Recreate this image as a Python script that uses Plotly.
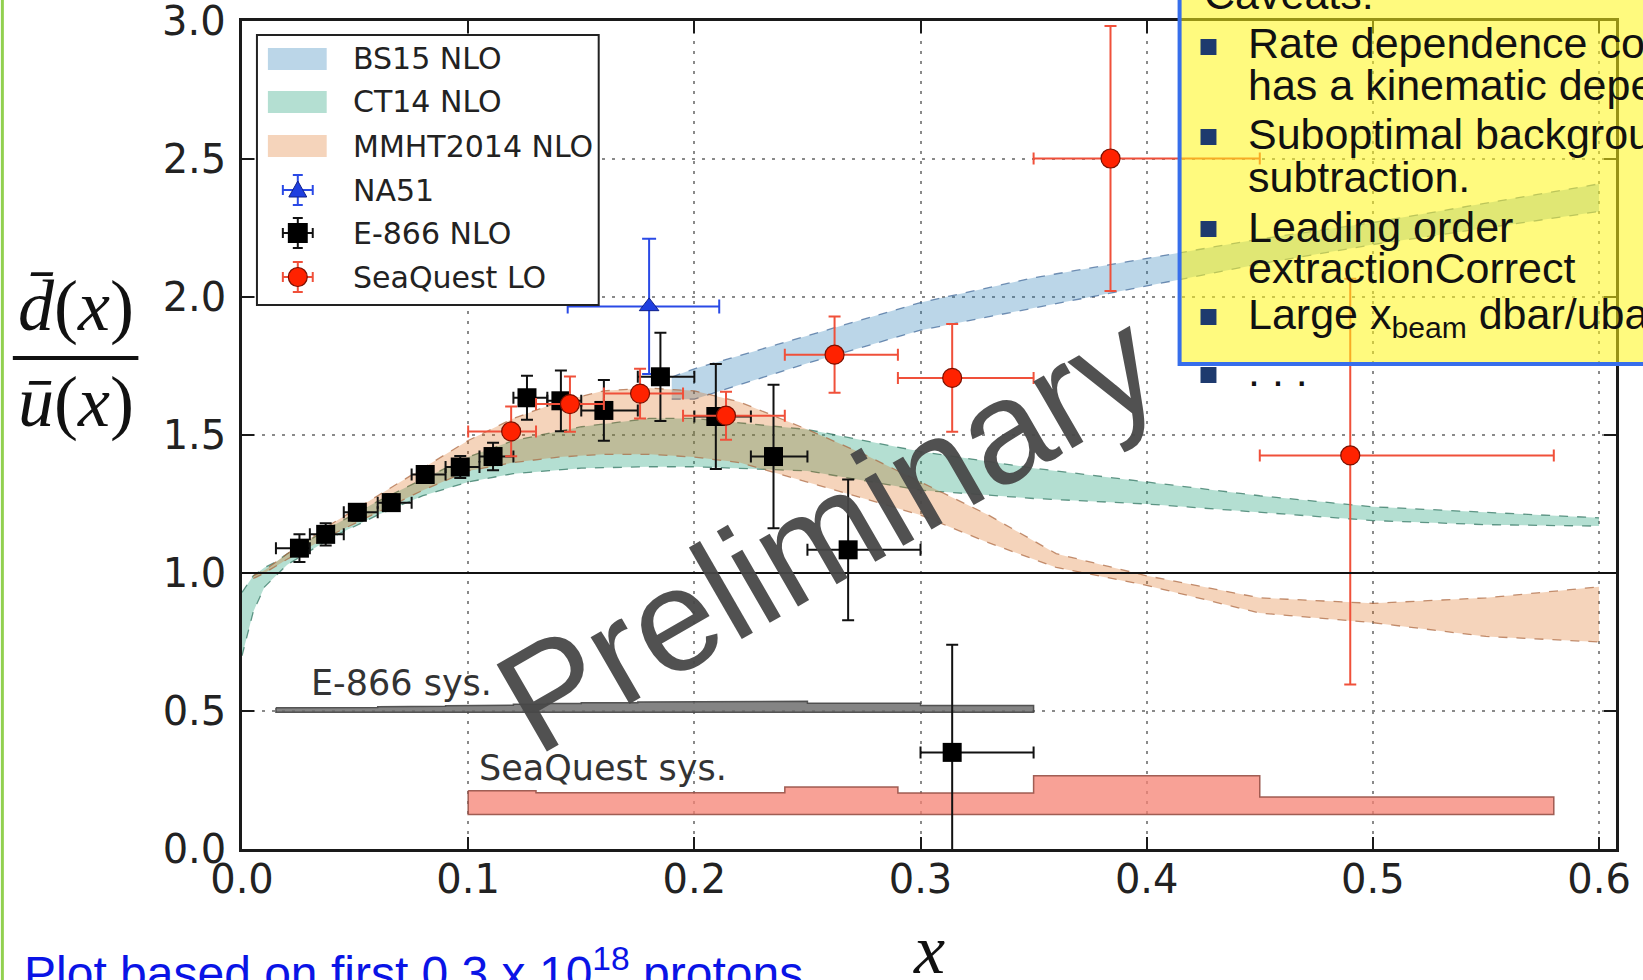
import plotly.graph_objects as go

# ---------------- data ----------------
bs15_x  = [0.19, 0.20, 0.25, 0.30, 0.35, 0.40, 0.45, 0.50, 0.55, 0.60]
bs15_hi = [1.71, 1.74, 1.86, 1.98, 2.07, 2.14, 2.21, 2.27, 2.34, 2.41]
bs15_lo = [1.63, 1.63, 1.76, 1.88, 1.96, 2.04, 2.12, 2.19, 2.25, 2.31]

ct14_x  = [0.0, 0.005, 0.01, 0.015, 0.02, 0.03, 0.04, 0.06, 0.08, 0.10, 0.12, 0.15,
           0.18, 0.20, 0.25, 0.30, 0.35, 0.40, 0.45, 0.50, 0.55, 0.60]
ct14_hi = [0.93, 0.99, 1.02, 1.04, 1.07, 1.12, 1.17, 1.26, 1.34, 1.42, 1.48, 1.53,
           1.56, 1.56, 1.52, 1.44, 1.38, 1.33, 1.28, 1.24, 1.22, 1.20]
ct14_lo = [0.70, 0.86, 0.95, 0.99, 1.03, 1.08, 1.13, 1.21, 1.28, 1.33, 1.36, 1.38,
           1.385, 1.385, 1.37, 1.30, 1.27, 1.25, 1.22, 1.19, 1.175, 1.17]

mmht_x  = [0.005, 0.01, 0.02, 0.04, 0.06, 0.08, 0.10, 0.12, 0.14, 0.16, 0.18, 0.20,
           0.22, 0.25, 0.275, 0.30, 0.33, 0.36, 0.40, 0.45, 0.50, 0.55, 0.60]
mmht_hi = [0.99, 1.01, 1.07, 1.18, 1.28, 1.38, 1.48, 1.56, 1.62, 1.66, 1.67, 1.66,
           1.62, 1.52, 1.43, 1.33, 1.21, 1.07, 0.99, 0.91, 0.89, 0.91, 0.95]
mmht_lo = [0.98, 1.00, 1.05, 1.14, 1.22, 1.30, 1.37, 1.40, 1.42, 1.43, 1.43, 1.42,
           1.40, 1.33, 1.27, 1.21, 1.11, 1.02, 0.955, 0.855, 0.82, 0.77, 0.75]

na51_x = [0.18]
na51_y = [1.966]
na51_xlo = [0.036]
na51_xhi = [0.031]
na51_err = [0.245]

e866_x = [0.0254, 0.037, 0.051, 0.066, 0.081, 0.0965, 0.111, 0.126, 0.141, 0.160,
          0.185, 0.2095, 0.235, 0.268, 0.314]
e866_y = [1.09, 1.14, 1.22, 1.255, 1.357, 1.384, 1.422, 1.635, 1.624, 1.589,
          1.711, 1.567, 1.422, 1.084, 0.35]
e866_err = [0.05, 0.04, 0.03, 0.03, 0.03, 0.04, 0.05, 0.08, 0.11, 0.11,
            0.16, 0.19, 0.26, 0.255, 0.39]
e866_edges = [0.015, 0.03, 0.045, 0.06, 0.075, 0.09, 0.105, 0.12, 0.135, 0.15,
              0.175, 0.2, 0.225, 0.25, 0.3, 0.35]

sq_x = [0.119, 0.145, 0.176, 0.214, 0.262, 0.314, 0.384, 0.490]
sq_y = [1.513, 1.612, 1.650, 1.570, 1.791, 1.707, 2.502, 1.426]
sq_err_up = [0.09, 0.10, 0.09, 0.087, 0.138, 0.195, 0.48, 0.64]
sq_err_dn = [0.09, 0.10, 0.09, 0.087, 0.138, 0.195, 0.48, 0.83]
sq_edges = [0.10, 0.13, 0.16, 0.195, 0.24, 0.29, 0.35, 0.45, 0.58]

e866_sys_top = [0.512, 0.512, 0.513, 0.515, 0.517, 0.519, 0.521, 0.524, 0.527,
                0.530, 0.533, 0.535, 0.535, 0.528, 0.520]
e866_sys_base = 0.495
sq_sys_top = [0.211, 0.204, 0.204, 0.204, 0.225, 0.203, 0.265, 0.188]
sq_sys_base = 0.125

x_ticks = [0.0, 0.1, 0.2, 0.3, 0.4, 0.5, 0.6]
y_ticks = [0.0, 0.5, 1.0, 1.5, 2.0, 2.5, 3.0]

legend_names = ["BS15 NLO", "CT14 NLO", "MMHT2014 NLO", "NA51", "E-866 NLO", "SeaQuest LO"]

caveat_lines = ["Rate dependence correction", "has a kinematic dependence",
                "Suboptimal background", "subtraction.", "Leading order",
                "extractionCorrect", "Large x<sub>beam</sub> dbar/ubar", ". . ."]

# ---------------- styles ----------------
BS_FILL, BS_LINE = "rgba(31,119,180,0.30)", "rgba(60,100,150,0.7)"
CT_FILL, CT_LINE = "rgba(27,158,119,0.33)", "rgba(40,110,90,0.7)"
MM_FILL, MM_LINE = "rgba(217,95,2,0.27)", "rgba(170,100,60,0.7)"
NA_COL, NA_EDGE = "#1f3fe0", "#10208a"
E_COL = "black"
SQ_COL, SQ_EDGE, SQ_BAR = "#ff2200", "#7a1000", "#f0503a"
TICK_FONT = dict(family="DejaVu Sans", size=40, color="#222")

W, H = 1643, 980
L, R, T, B = 242, 22, 21, 131
PW, PH = W - L - R, H - T - B


def px(X):
    return (X - L) / PW


def py(Y):
    return (H - B - Y) / PH


def step_poly(edges, tops, base):
    xs, ys = [], []
    for i, t in enumerate(tops):
        xs += [edges[i], edges[i + 1]]
        ys += [t, t]
    xs += [edges[-1], edges[0], edges[0]]
    ys += [base, base, tops[0]]
    return xs, ys


fig = go.Figure()


def band(x, lo, hi, fillc, linec):
    fig.add_trace(go.Scatter(x=x, y=lo, mode="lines", hoverinfo="skip",
                             line=dict(color=linec, width=1.3, dash="dash")))
    fig.add_trace(go.Scatter(x=x, y=hi, mode="lines", fill="tonexty",
                             fillcolor=fillc, line=dict(color=linec, width=1.3, dash="dash")))


band(bs15_x, bs15_lo, bs15_hi, BS_FILL, BS_LINE)
band(ct14_x, ct14_lo, ct14_hi, CT_FILL, CT_LINE)
band(mmht_x, mmht_lo, mmht_hi, MM_FILL, MM_LINE)

# systematic bands
ex, ey = step_poly(e866_edges, e866_sys_top, e866_sys_base)
fig.add_trace(go.Scatter(x=ex, y=ey, mode="lines", fill="toself",
                         fillcolor="rgba(110,110,110,0.85)",
                         line=dict(color="rgba(70,70,70,0.9)", width=1.5)))
sx, sy = step_poly(sq_edges, sq_sys_top, sq_sys_base)
fig.add_trace(go.Scatter(x=sx, y=sy, mode="lines", fill="toself",
                         fillcolor="rgba(245,130,115,0.75)",
                         line=dict(color="rgba(150,80,70,0.9)", width=1.5)))

# NA51
fig.add_trace(go.Scatter(
    x=na51_x, y=na51_y, mode="markers", name="NA51",
    marker=dict(symbol="triangle-up", size=17, color=NA_COL, line=dict(color=NA_EDGE, width=1)),
    error_x=dict(type="data", symmetric=False, array=na51_xhi, arrayminus=na51_xlo,
                 color="#2a4ae6", thickness=2, width=7),
    error_y=dict(type="data", array=na51_err, color="#2a4ae6", thickness=2, width=7)))

# E-866
e_lo = [x - e866_edges[i] for i, x in enumerate(e866_x)]
e_hi = [e866_edges[i + 1] - x for i, x in enumerate(e866_x)]
fig.add_trace(go.Scatter(
    x=e866_x, y=e866_y, mode="markers", name="E-866 NLO",
    marker=dict(symbol="square", size=19, color=E_COL),
    error_x=dict(type="data", symmetric=False, array=e_hi, arrayminus=e_lo,
                 color="#111", thickness=2, width=6),
    error_y=dict(type="data", array=e866_err, color="#111", thickness=2, width=6)))

# SeaQuest
s_lo = [x - sq_edges[i] for i, x in enumerate(sq_x)]
s_hi = [sq_edges[i + 1] - x for i, x in enumerate(sq_x)]
fig.add_trace(go.Scatter(
    x=sq_x, y=sq_y, mode="markers", name="SeaQuest LO",
    marker=dict(symbol="circle", size=19, color=SQ_COL, line=dict(color=SQ_EDGE, width=1.2)),
    error_x=dict(type="data", symmetric=False, array=s_hi, arrayminus=s_lo,
                 color=SQ_BAR, thickness=2, width=6),
    error_y=dict(type="data", symmetric=False, array=sq_err_up, arrayminus=sq_err_dn,
                 color=SQ_BAR, thickness=2, width=6)))

axis_common = dict(
    showline=True, linecolor="#1a1a1a", linewidth=2.5, mirror="ticks",
    ticks="inside", ticklen=12, tickwidth=2, tickcolor="#1a1a1a",
    showgrid=True, gridcolor="#8a8a8a", gridwidth=2, griddash="3px,7px",
    zeroline=False, tickformat=".1f", tickfont=TICK_FONT,
)
fig.update_xaxes(range=[0, 0.6075], tickvals=x_ticks, ticklabelstandoff=-7, **axis_common)
# the top label (3.0) is dropped by plotly at the div edge; it is written as an annotation below
fig.update_yaxes(range=[-0.0001, 3.0002], tickvals=y_ticks,
                 ticktext=["{:.1f}".format(v) if v < y_ticks[-1] else "" for v in y_ticks],
                 ticklabelstandoff=5, **axis_common)


def pline(X0, Y0, X1, Y1, color, width=2):
    return dict(type="line", xref="paper", yref="paper", x0=px(X0), y0=py(Y0),
                x1=px(X1), y1=py(Y1), line=dict(color=color, width=width), layer="above")


shapes = [
    dict(type="line", xref="paper", yref="y", x0=0, x1=1, y0=1.0, y1=1.0,
         line=dict(color="#111", width=2), layer="above"),
    # caveats box
    dict(type="rect", xref="paper", yref="paper", x0=px(1183), x1=px(1700),
         y0=py(364), y1=py(-60), fillcolor="rgba(255,246,20,0.55)",
         line=dict(color="rgb(55,110,235)", width=4), layer="above"),
    # fraction bar
    pline(12, 358, 138, 358, "#111", 4),
    # slide green border
    pline(1.5, 0, 1.5, H, "rgb(146,208,80)", 3),
    # legend frame
    dict(type="rect", xref="paper", yref="paper", x0=px(257), x1=px(600),
         y0=py(305), y1=py(35), fillcolor="white",
         line=dict(color="#222", width=2), layer="above"),
]

# legend entries
leg_y = [59, 102, 146, 190, 233, 277]
for fc, ly in [(BS_FILL, leg_y[0]), (CT_FILL, leg_y[1]), (MM_FILL, leg_y[2])]:
    shapes.append(dict(type="rect", xref="paper", yref="paper", x0=px(268), x1=px(327),
                       y0=py(ly + 11), y1=py(ly - 11), fillcolor=fc,
                       line=dict(width=0), layer="above"))
MX = 298


def errcross(cy, col):
    out = [pline(MX - 15, cy, MX + 15, cy, col), pline(MX, cy - 15, MX, cy + 15, col)]
    out += [pline(MX - 15, cy - 5, MX - 15, cy + 5, col), pline(MX + 15, cy - 5, MX + 15, cy + 5, col),
            pline(MX - 5, cy - 15, MX + 5, cy - 15, col), pline(MX - 5, cy + 15, MX + 5, cy + 15, col)]
    return out


shapes += errcross(leg_y[3], "#2a4ae6")
shapes.append(dict(type="path", xref="paper", yref="paper",
                   path="M{},{} L{},{} L{},{} Z".format(px(MX), py(leg_y[3] - 9),
                                                         px(MX - 9), py(leg_y[3] + 7),
                                                         px(MX + 9), py(leg_y[3] + 7)),
                   fillcolor=NA_COL, line=dict(color=NA_EDGE, width=1), layer="above"))
shapes += errcross(leg_y[4], "#111")
shapes.append(dict(type="rect", xref="paper", yref="paper", x0=px(MX - 10), x1=px(MX + 10),
                   y0=py(leg_y[4] + 10), y1=py(leg_y[4] - 10), fillcolor=E_COL,
                   line=dict(width=0), layer="above"))
shapes += errcross(leg_y[5], SQ_BAR)
shapes.append(dict(type="circle", xref="paper", yref="paper", x0=px(MX - 9.5), x1=px(MX + 9.5),
                   y0=py(leg_y[5] + 9.5), y1=py(leg_y[5] - 9.5), fillcolor=SQ_COL,
                   line=dict(color=SQ_EDGE, width=1.2), layer="above"))

bullet_y = [47, 137, 229, 317, 375]
for by in bullet_y:
    shapes.append(dict(type="rect", xref="paper", yref="paper",
                       x0=px(1204), x1=px(1220), y0=py(by + 8), y1=py(by - 8),
                       fillcolor="rgb(30,58,110)", line=dict(width=0), layer="above"))


def note(text, X, Y, size, family="DejaVu Sans", color="#222", xa="left", ya="middle", **kw):
    return dict(text=text, x=px(X), y=py(Y), xref="paper", yref="paper", showarrow=False,
                xanchor=xa, yanchor=ya, font=dict(family=family, size=size, color=color), **kw)


ann = []
# top y tick label
ann.append(dict(text="{:.1f}".format(y_ticks[-1]), x=0, y=y_ticks[-1], xref="paper", yref="y",
                xanchor="right", yanchor="middle", xshift=-14, showarrow=False, font=TICK_FONT))
for name, ly in zip(legend_names, leg_y):
    ann.append(note(name, 351, ly, 30))
ann.append(note("Preliminary", 829, 531, 146, family="Liberation Sans",
                color="rgba(72,72,72,0.95)", xa="center", textangle=-30))
ann.append(note("E-866 sys.", 309, 683, 35, color="#333"))
ann.append(note("SeaQuest sys.", 478, 768, 35, color="#333"))
ann.append(note("<i>x</i>", 931, 949, 70, family="Liberation Serif", color="#111", xa="center"))
ann.append(note("<i>d\u0304</i>(<i>x</i>)", 75, 306, 72, family="Liberation Serif",
                color="#111", xa="center"))
ann.append(note("<i>\u016b</i>(<i>x</i>)", 75, 402, 72, family="Liberation Serif",
                color="#111", xa="center"))
ann.append(note("Plot based on first 0.3 x 10<sup>18</sup> protons", 21, 1002, 48,
                family="Liberation Sans", color="#0a14e6", ya="bottom"))
ann.append(note("Caveats:", 1205, -6, 43, family="Liberation Sans", color="#111"))
line_y = [43, 85, 134, 177, 227, 268, 317, 371]
for t, ly in zip(caveat_lines, line_y):
    ann.append(note(t, 1250, ly, 43, family="Liberation Sans", color="#111"))

fig.update_layout(
    width=W, height=H, autosize=False, showlegend=False,
    margin=dict(l=L, r=R, t=T, b=B),
    paper_bgcolor="white", plot_bgcolor="white",
    shapes=shapes, annotations=ann,
)

fig.write_html("out.html", config={"displayModeBar": False})
